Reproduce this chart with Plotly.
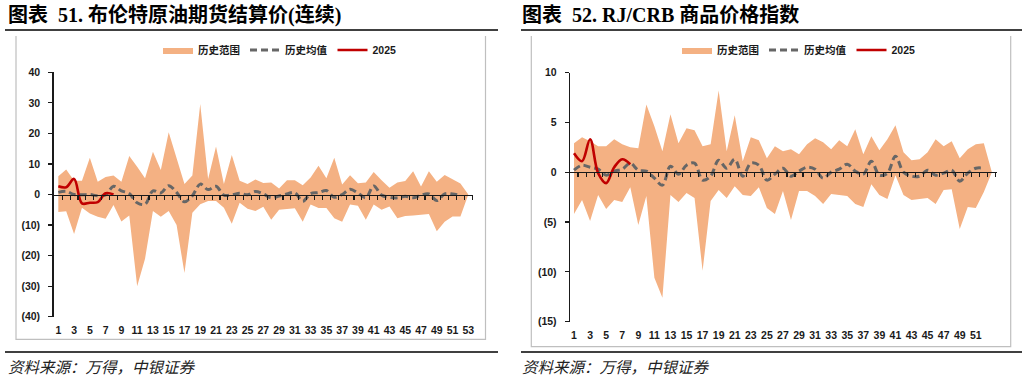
import plotly.graph_objects as go

# ---------------- data ----------------
weeks = list(range(1, 54))

brent_upper = [6.0, 8.2, 4.5, 4.5, 12.0, 4.2, 5.7, 6.2, 4.2, 12.6,
               9.1, 5.3, 14.0, 8.0, 20.4, 11.8, 3.4, 6.2, 29.6, 5.1,
               15.7, 3.4, 12.9, 4.5, 3.4, 4.9, 3.8, 3.9, 2.0, 4.7,
               4.7, 3.0, 5.6, 9.4, 5.3, 12.0, 3.3, 6.3, 3.7, 3.9,
               7.4, 4.7, 2.2, 3.9, 4.4, 7.6, 2.6, 7.6, 4.2, 6.4,
               5.0, 3.6, 0.0]
brent_lower = [-5.7, -5.5, -12.9, -4.3, -6.2, -7.3, -7.9, -3.4, -8.8, -6.9,
               -30.0, -21.0, -5.4, -7.3, -5.4, -10.0, -25.7, -6.0, -3.2, -2.1,
               -2.1, -4.3, -9.6, -2.7, -4.7, -5.4, -4.0, -8.3, -5.0, -4.7,
               -4.5, -8.9, -3.3, -4.4, -4.4, -7.8, -8.9, -3.3, -3.7, -8.3,
               -3.3, -5.0, -3.9, -7.8, -7.0, -6.9, -6.7, -6.4, -12.0, -8.9,
               -7.2, -7.2, 0.0]
brent_mean = [0.7, 1.0, 0.0, -0.1, 0.0, -0.4, -0.1, 2.7, 1.2, 0.3,
              -2.7, -3.2, 1.2, 0.5, 2.9, 0.7, -2.4, -0.4, 3.4, 1.6,
              2.7, -0.2, -0.1, 0.4, -0.1, 1.0, 0.2, -1.1, -0.5, 0.2,
              0.6, -2.2, 0.3, 0.6, 1.3, -0.9, 0.0, 1.7, 0.5, -1.1,
              2.8, -0.2, -0.9, -1.1, -0.6, -1.1, -0.2, 0.2, -2.0, 0.2,
              0.2, -0.3]
brent_2025 = [2.7, 2.4, 5.1, -2.9, -2.7, -2.5, 0.4, 0.0]

crb_upper = [2.9, 3.5, 3.1, 2.6, 2.6, 3.3, 2.8, 2.5, 2.4, 6.8,
             4.6, 2.1, 5.8, 2.9, 4.4, 4.2, 2.6, 2.8, 8.2, 2.1,
             5.7, 1.1, 3.5, 3.2, 1.4, 2.6, 2.1, 2.3, 1.8, 2.8,
             3.4, 3.0, 2.3, 3.2, 2.6, 4.3, 1.8, 3.6, 2.2, 3.3,
             4.7, 2.0, 1.2, 1.3, 2.0, 3.3, 2.6, 3.1, 1.4, 2.3,
             2.8, 2.9, 0.0]
crb_lower = [-4.2, -2.8, -4.9, -2.3, -3.7, -2.8, -3.0, -1.5, -5.3, -2.4,
             -10.6, -12.6, -2.3, -3.0, -2.1, -2.6, -9.9, -2.9, -1.8, -2.6,
             -1.4, -2.3, -2.4, -1.5, -3.6, -4.2, -1.9, -4.8, -1.9, -1.9,
             -2.4, -3.2, -2.2, -2.3, -2.4, -3.2, -3.5, -1.2, -2.3, -2.7,
             -0.3, -2.3, -2.8, -2.7, -2.6, -3.2, -1.8, -1.7, -5.7, -3.5,
             -3.6, -2.0, 0.0]
crb_mean = [0.2, 0.7, 0.5, 0.3, -0.3, 0.1, 0.3, 0.9, 0.2, 0.1,
            -0.6, -1.3, 0.6, -0.2, 0.7, 0.9, -0.8, -0.4, 1.2, 0.4,
            1.3, -0.4, 0.9, 0.7, -0.8, -0.2, 0.4, -0.4, 0.1, 0.5,
            0.3, -0.6, 0.0, 0.3, 0.8, 0.1, -0.2, 1.1, -0.3, -0.1,
            1.6, 0.0, -0.4, -0.4, 0.2, -0.3, -0.1, 0.2, -0.9, -0.1,
            0.4, 0.4]
crb_2025 = [1.9, 1.1, 3.3, -0.1, -1.1, 0.5, 1.3, 0.8]

left_xticks = list(range(1, 54, 2))
right_xticks = list(range(1, 52, 2))
left_yticks = [40, 30, 20, 10, 0, -10, -20, -30, -40]
left_yticklabels = ["40", "30", "20", "10", "0", "(10)", "(20)", "(30)", "(40)"]
right_yticks = [10, 5, 0, -5, -10, -15]
right_yticklabels = ["10", "5", "0", "(5)", "(10)", "(15)"]

series_names = ["历史范围", "历史均值", "2025"]
left_title = "图表  51. 布伦特原油期货结算价(连续)"
right_title = "图表  52. RJ/CRB 商品价格指数"
source_text = "资料来源：万得，中银证券"

# ---------------- style ----------------
W, H = 1028, 379
FILL = "#F4B183"
MEAN = "#666666"
RED = "#C00000"
SANS = "Liberation Sans, Arial, Noto Sans CJK SC"
TITLE_FONT = "Liberation Serif, Times New Roman, Noto Sans CJK SC"


def fx(p):
    return p / W


def fy(p):
    return 1 - p / H


fig = go.Figure()


def add_panel(xa, ya, za, upper, lower, mean, cur, legend):
    fig.add_trace(go.Scatter(x=weeks, y=lower, mode="lines",
                             line=dict(width=0, color=FILL), showlegend=False,
                             hoverinfo="skip", xaxis=xa, yaxis=ya))
    fig.add_trace(go.Scatter(x=weeks, y=upper, mode="lines",
                             line=dict(width=0, color=FILL), fill="tonexty",
                             fillcolor=FILL, name=series_names[0], legend=legend,
                             xaxis=xa, yaxis=ya))
    fig.add_trace(go.Scatter(x=weeks[:len(mean)], y=mean, mode="lines",
                             line=dict(color=MEAN, width=3, dash="7px,4px",
                                       shape="spline", smoothing=1),
                             name=series_names[1], legend=legend, xaxis=xa, yaxis=ya))
    fig.add_trace(go.Scatter(x=weeks[:len(cur)], y=cur, mode="lines",
                             line=dict(color=RED, width=2.6, shape="spline", smoothing=1),
                             name=series_names[2], legend=legend, xaxis=xa, yaxis=ya))
    # empty trace so that the zero-line axis subplot is created
    fig.add_trace(go.Scatter(x=[], y=[], showlegend=False, hoverinfo="skip",
                             xaxis=za, yaxis=ya))


add_panel("x", "y", "x3", brent_upper, brent_lower, brent_mean, brent_2025, "legend")
add_panel("x2", "y2", "x4", crb_upper, crb_lower, crb_mean, crb_2025, "legend2")

# panel geometry (pixels)
L_X0, L_X1, L_Y0, L_Y1 = 53.5, 472.5, 72.3, 316.7
R_X0, R_X1, R_Y0, R_Y1 = 570.0, 996.7, 72.5, 321.7
L_RANGE_X = [0.39, 53.53]
R_RANGE_X = [0.5, 53.6]
L_RANGE_Y = [-40, 40]
R_RANGE_Y = [-15, 10]


def zero_pos(y0px, y1px, rng):
    lo, hi = fy(y1px), fy(y0px)
    return lo + (0 - rng[0]) / (rng[1] - rng[0]) * (hi - lo)


tick_font = dict(family=SANS, size=10.5, color="#1A1A1A", weight="bold")

common_x = dict(showgrid=False, zeroline=False, showline=False, ticks="",
                tickfont=tick_font, fixedrange=True)
common_y = dict(showgrid=False, zeroline=False, showline=True, linecolor="#1A1A1A",
                linewidth=1.3, ticks="outside", ticklen=4, tickwidth=1.2,
                tickcolor="#1A1A1A", tickfont=tick_font, fixedrange=True,
                layer="above traces", ticklabelstandoff=6)
zero_x = dict(showgrid=False, zeroline=False, showline=True, linecolor="#1A1A1A",
              linewidth=1.3, ticks="outside", ticklen=4, tickwidth=1.1,
              tickcolor="#1A1A1A", showticklabels=False, anchor="free", side="bottom",
              layer="above traces", fixedrange=True)

fig.update_layout(
    width=W, height=H,
    margin=dict(l=0, r=0, t=0, b=0, pad=0, autoexpand=False),
    paper_bgcolor="white", plot_bgcolor="rgba(0,0,0,0)",
    xaxis=dict(domain=[fx(L_X0), fx(L_X1)], range=L_RANGE_X, anchor="y",
               tickvals=left_xticks, ticktext=[str(v) for v in left_xticks],
               ticklabelstandoff=6, **common_x),
    yaxis=dict(domain=[fy(L_Y1), fy(L_Y0)], range=L_RANGE_Y, anchor="x",
               tickvals=left_yticks, ticktext=left_yticklabels, **common_y),
    xaxis2=dict(domain=[fx(R_X0), fx(R_X1)], range=R_RANGE_X, anchor="y2",
                tickvals=right_xticks, ticktext=[str(v) for v in right_xticks],
                ticklabelstandoff=6, **common_x),
    yaxis2=dict(domain=[fy(R_Y1), fy(R_Y0)], range=R_RANGE_Y, anchor="x2",
                tickvals=right_yticks, ticktext=right_yticklabels, **common_y),
    xaxis3=dict(overlaying="x", range=L_RANGE_X,
                position=zero_pos(L_Y0, L_Y1, L_RANGE_Y),
                tickvals=[w + 0.5 for w in weeks], **zero_x),
    xaxis4=dict(overlaying="x2", range=R_RANGE_X,
                position=zero_pos(R_Y0, R_Y1, R_RANGE_Y),
                tickvals=[w + 0.5 for w in weeks], **zero_x),
    legend=dict(orientation="h", x=fx(158), y=fy(50), xanchor="left", yanchor="middle",
                font=dict(family=SANS, size=10.5, color="#1A1A1A", weight="bold"),
                bgcolor="rgba(0,0,0,0)", itemwidth=30, traceorder="normal"),
    legend2=dict(orientation="h", x=fx(677), y=fy(50), xanchor="left", yanchor="middle",
                 font=dict(family=SANS, size=10.5, color="#1A1A1A", weight="bold"),
                 bgcolor="rgba(0,0,0,0)", itemwidth=30, traceorder="normal"),
)

# titles and source notes
for x, txt in [(6, left_title), (520, right_title)]:
    fig.add_annotation(xref="paper", yref="paper", x=fx(x), y=fy(15), text=txt,
                       showarrow=False, xanchor="left", yanchor="middle",
                       font=dict(family=TITLE_FONT, size=20, color="black", weight="bold"))
for x in [6, 520]:
    fig.add_annotation(xref="paper", yref="paper", x=fx(x), y=fy(365.5), text=source_text,
                       showarrow=False, xanchor="left", yanchor="middle",
                       font=dict(family="Noto Sans CJK SC", size=15.5, color="#222222",
                                 style="italic"))

# separator lines
shapes = []
for x0, x1 in [(5, 498), (521, 1022)]:
    for yy in [30, 352]:
        shapes.append(dict(type="line", xref="paper", yref="paper",
                           x0=fx(x0), x1=fx(x1), y0=fy(yy), y1=fy(yy),
                           line=dict(color="black", width=1.5)))
# chart frames
for x0, x1, y0, y1 in [(16, 485.5, 36, 339.3), (531.3, 1010.7, 36, 346.7)]:
    path = f"M{fx(x0)},{fy(y0)} L{fx(x0)},{fy(y1)} L{fx(x1)},{fy(y1)} L{fx(x1)},{fy(y0)}"
    shapes.append(dict(type="path", xref="paper", yref="paper", path=path,
                       line=dict(color="#BFBFBF", width=1.2)))
fig.update_layout(shapes=shapes)

fig.write_html("out.html",
               config={"displayModeBar": False, "staticPlot": True},
               post_script="document.body.style.margin='0';"
                           "document.body.style.overflow='hidden';")
